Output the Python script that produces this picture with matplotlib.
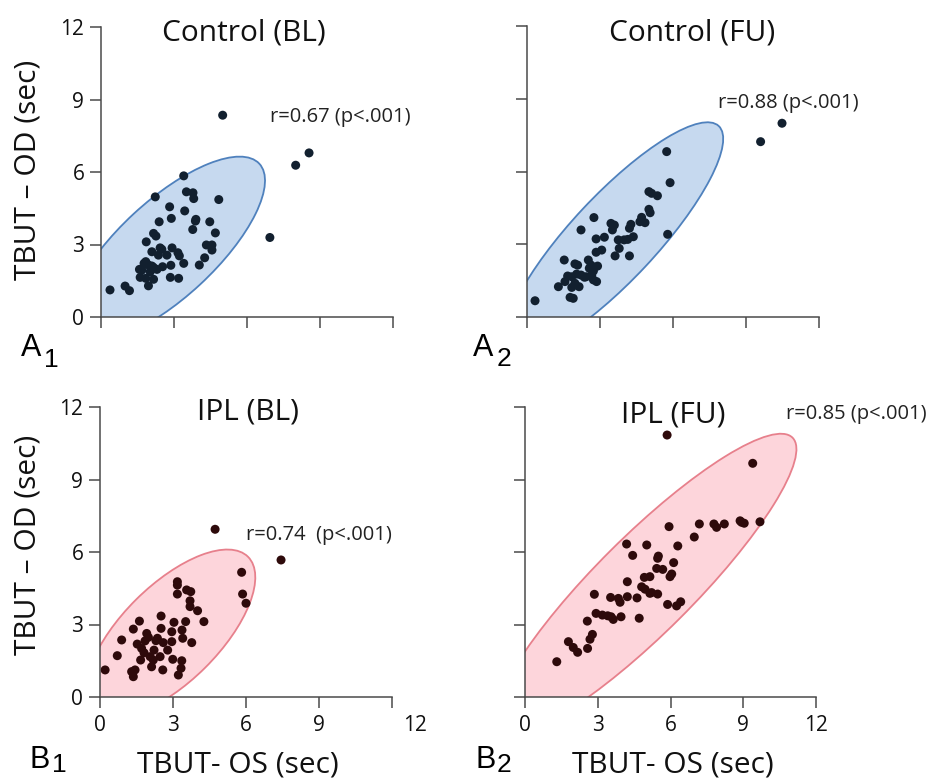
import numpy as np
import matplotlib
matplotlib.use('Agg')
import matplotlib.pyplot as plt
from matplotlib.patches import Ellipse
from matplotlib.transforms import ScaledTranslation

# ---- data ----
# Control, baseline
a1_os = [0.37, 0.99, 1.17, 3.40, 2.23, 3.51, 3.78, 3.81, 4.84, 2.82, 3.44, 2.89, 2.39,
         3.90, 3.88, 4.47, 3.77, 4.70, 2.16, 2.26, 1.86, 4.33, 4.56, 4.56, 2.09, 2.43,
         2.50, 2.92, 2.36, 2.71, 3.16, 3.22, 4.26, 1.84, 1.77, 1.95, 2.09, 2.16, 1.58,
         1.68, 2.30, 2.53, 2.87, 3.40, 4.04, 1.61, 1.84, 2.16, 1.95, 2.85, 3.19, 2.02,
         5.00, 6.94, 8.00, 8.55]
a1_od = [1.12, 1.28, 1.09, 5.84, 4.97, 5.18, 5.14, 4.90, 4.86, 4.56, 4.39, 4.08, 3.94,
         4.04, 3.97, 3.94, 3.62, 3.48, 3.46, 3.35, 3.11, 2.98, 2.98, 2.77, 2.70, 2.86,
         2.80, 2.86, 2.56, 2.56, 2.66, 2.53, 2.45, 2.29, 2.22, 2.15, 2.11, 2.05, 1.97,
         1.94, 1.97, 2.08, 2.14, 2.22, 2.15, 1.64, 1.60, 1.56, 1.29, 1.64, 1.60, 1.87,
         8.35, 3.29, 6.28, 6.79]

# Control, follow-up
a2_os = [0.33, 5.74, 5.88, 5.01, 5.12, 5.36, 5.01, 5.06, 4.71, 4.64, 4.85, 2.75, 2.22,
         3.45, 3.59, 3.51, 4.27, 4.21, 4.37, 4.14, 3.99, 3.75, 3.18, 2.84, 5.78, 3.79,
         3.62, 4.21, 3.07, 2.84, 1.53, 1.97, 2.08, 2.52, 2.63, 2.90, 1.67, 1.84, 2.04,
         2.22, 2.36, 2.73, 2.66, 1.56, 1.97, 1.29, 1.84, 2.14, 2.73, 2.86, 1.77, 1.90,
         2.43, 2.56, 9.60, 10.48]
a2_od = [0.67, 6.82, 5.54, 5.17, 5.10, 5.00, 4.44, 4.30, 4.11, 3.93, 3.89, 4.10, 3.59,
         3.86, 3.79, 3.59, 3.82, 3.66, 3.31, 3.20, 3.18, 3.18, 3.29, 3.22, 3.41, 2.83,
         2.52, 2.52, 2.76, 2.67, 2.35, 2.19, 2.14, 2.35, 2.14, 2.10, 1.69, 1.66, 1.77,
         1.73, 1.64, 1.90, 1.73, 1.46, 1.39, 1.25, 1.22, 1.25, 1.53, 1.46, 0.81, 0.77,
         1.66, 2.01, 7.23, 7.99]

# IPL, baseline
b1_os = [0.21, 0.71, 0.89, 1.37, 1.62, 1.53, 1.30, 1.37, 1.44, 1.67, 1.81, 1.85, 1.92,
         1.99, 2.12, 2.06, 2.22, 2.30, 2.36, 2.47, 2.51, 2.51, 2.60, 2.58, 2.78, 2.95,
         2.99, 2.95, 3.04, 3.18, 3.18, 3.18, 3.33, 3.22, 3.40, 3.37, 3.52, 3.56, 3.73,
         3.70, 3.70, 3.77, 4.01, 4.27, 5.82, 5.86, 6.00, 3.36, 1.71, 2.19, 4.73, 7.44]
b1_od = [1.12, 1.71, 2.36, 2.81, 3.14, 2.19, 1.05, 0.84, 1.12, 1.53, 1.83, 2.32, 2.63,
         2.47, 1.25, 1.67, 1.94, 2.33, 2.43, 1.67, 3.35, 2.84, 2.25, 1.12, 1.94, 2.29,
         1.56, 2.70, 3.09, 4.77, 4.63, 4.26, 1.19, 0.91, 2.43, 2.77, 3.12, 4.43, 4.36,
         3.98, 3.74, 2.25, 3.57, 3.12, 5.16, 4.26, 3.88, 1.50, 2.01, 1.53, 6.94, 5.67]

# IPL, follow-up
b2_os = [1.31, 1.79, 1.99, 2.17, 2.58, 2.68, 2.78, 2.57, 2.93, 3.19, 3.41, 3.55, 3.64,
         3.96, 2.86, 3.53, 3.85, 3.92, 4.22, 4.62, 4.71, 4.22, 4.81, 4.92, 5.15, 4.95,
         5.15, 5.47, 5.88, 6.25, 6.42, 5.98, 6.05, 5.43, 5.68, 5.47, 5.50, 6.13, 4.19,
         4.44, 5.02, 5.94, 6.30, 6.98, 7.19, 7.79, 7.90, 8.22, 8.87, 8.93, 9.04, 9.69,
         9.39, 5.22, 5.86]
b2_od = [1.46, 2.29, 2.05, 1.85, 2.01, 2.39, 2.59, 3.14, 3.46, 3.39, 3.36, 3.32, 3.21,
         3.32, 4.25, 4.12, 4.08, 3.92, 4.15, 4.10, 3.26, 4.77, 4.56, 4.95, 4.98, 4.46,
         4.29, 4.26, 3.83, 3.77, 3.94, 4.98, 5.09, 5.32, 5.28, 5.74, 5.83, 5.56, 6.33,
         5.86, 6.29, 7.05, 6.25, 6.62, 7.16, 7.16, 7.02, 7.16, 7.29, 7.23, 7.19, 7.25,
         9.67, 4.32, 10.84]

titles = ['Control (BL)', 'Control (FU)', 'IPL (BL)', 'IPL (FU)']
r_texts = ['r=0.67 (p<.001)', 'r=0.88 (p<.001)', 'r=0.74  (p<.001)', 'r=0.85 (p<.001)']
ticks = [0, 3, 6, 9, 12]

# ellipse: centre x, centre y, full width, full height, angle
ell_a1 = (2.70, 2.80, 10.4, 4.0, 43)
ell_a2 = (3.58, 3.27, 12.6, 3.5, 47)
ell_b1 = (2.90, 2.62, 9.0, 4.0, 45)
ell_b2 = (4.95, 4.65, 17.2, 4.0, 45)

W, H = 931, 779
fig = plt.figure(figsize=(W / 100, H / 100), dpi=100)

def frac(px, py):
    return px / W, 1 - py / H

blue_face, blue_edge = '#c6d9ef', '#4f81bd'
pink_face, pink_edge = '#fdd5db', '#e7808c'
dot_a, dot_b = '#12202f', '#2e0a0b'

panels = [
    # data, ellipse, colours, axes box px (left, top, right, bottom), ylabels, xlabels
    (a1_os, a1_od, ell_a1, blue_face, blue_edge, dot_a, (101, 27, 393, 317), True, False),
    (a2_os, a2_od, ell_a2, blue_face, blue_edge, dot_a, (527, 26, 819, 317), False, False),
    (b1_os, b1_od, ell_b1, pink_face, pink_edge, dot_b, (100, 407, 392, 697), True, True),
    (b2_os, b2_od, ell_b2, pink_face, pink_edge, dot_b, (525, 407, 816, 697), False, True),
]

title_pos = [(244, 33), (692, 33), (248, 412), (673, 415)]
rtext_pos = [(270, 117), (718, 103), (246, 535), (786, 414)]

axes = []
for i, (xs, ys, ell, fc, ec, dc, box, ylab, xlab) in enumerate(panels):
    l, t, r, b = box
    ax = fig.add_axes([l / W, 1 - b / H, (r - l) / W, (b - t) / H])
    ax.set_xlim(0, 12)
    ax.set_ylim(0, 12)
    cx, cy, w, h, ang = ell
    ax.add_patch(Ellipse((cx, cy), w, h, angle=ang, facecolor=fc, edgecolor=ec,
                         lw=1.3, zorder=1))
    ax.scatter(xs, ys, s=42, color=dc, edgecolors='none', zorder=3, clip_on=False)
    for s in ['top', 'right']:
        ax.spines[s].set_visible(False)
    for s in ['left', 'bottom']:
        ax.spines[s].set_color('#4a4a4a')
        ax.spines[s].set_linewidth(1.1)
        ax.spines[s].set_zorder(4)
    ax.set_xticks(ticks)
    ax.set_yticks(ticks)
    ax.tick_params(direction='out', length=8, width=1.1, color='#4a4a4a',
                   labelsize=15, labelcolor='#111111', pad=4)
    ax.tick_params(axis='x', pad=5)
    if not ylab:
        ax.set_yticklabels([])
    if not xlab:
        ax.set_xticklabels([])
    for lab in ax.get_xticklabels() + ax.get_yticklabels():
        lab.set_fontfamily('Open Sans')
    ax.patch.set_alpha(0)
    axes.append(ax)

    tx, ty = frac(*title_pos[i])
    fig.text(tx, ty, titles[i], fontsize=21.5, family='Open Sans', ha='center', va='center',
             color='#111111')
    rx, ry = frac(*rtext_pos[i])
    fig.text(rx, ry, r_texts[i], fontsize=14.5, family='Open Sans', ha='left', va='center',
             color='#222222')

# the "12" on the IPL (BL) x axis sits off to the right
lbl12 = axes[2].get_xticklabels()[-1]
lbl12.set_transform(lbl12.get_transform() + ScaledTranslation(23 / 100, 0, fig.dpi_scale_trans))

# axis titles
for py in [170, 545]:
    x, y = frac(28, py)
    fig.text(x, y, 'TBUT – OD (sec)', rotation=90, fontsize=21.5, family='Open Sans',
             ha='center', va='center', color='#111111')
for px in [238, 673]:
    x, y = frac(px, 765)
    fig.text(x, y, 'TBUT- OS (sec)', fontsize=21.5, family='Open Sans',
             ha='center', va='center', color='#111111')

# panel letters with lowered index
letters = [('A', '1', 21, 356, 44, 367), ('A', '2', 473, 356, 497, 366),
           ('B', '1', 30, 768, 52, 772), ('B', '2', 475, 768, 497, 772)]
for big, small, bx, by, sx, sy in letters:
    x, y = frac(bx, by)
    fig.text(x, y, big, fontsize=22, family='Liberation Sans', ha='left', va='baseline')
    x, y = frac(sx, sy)
    fig.text(x, y, small, fontsize=19, family='Liberation Sans', ha='left', va='baseline')

fig.savefig('out.png', dpi=100)
